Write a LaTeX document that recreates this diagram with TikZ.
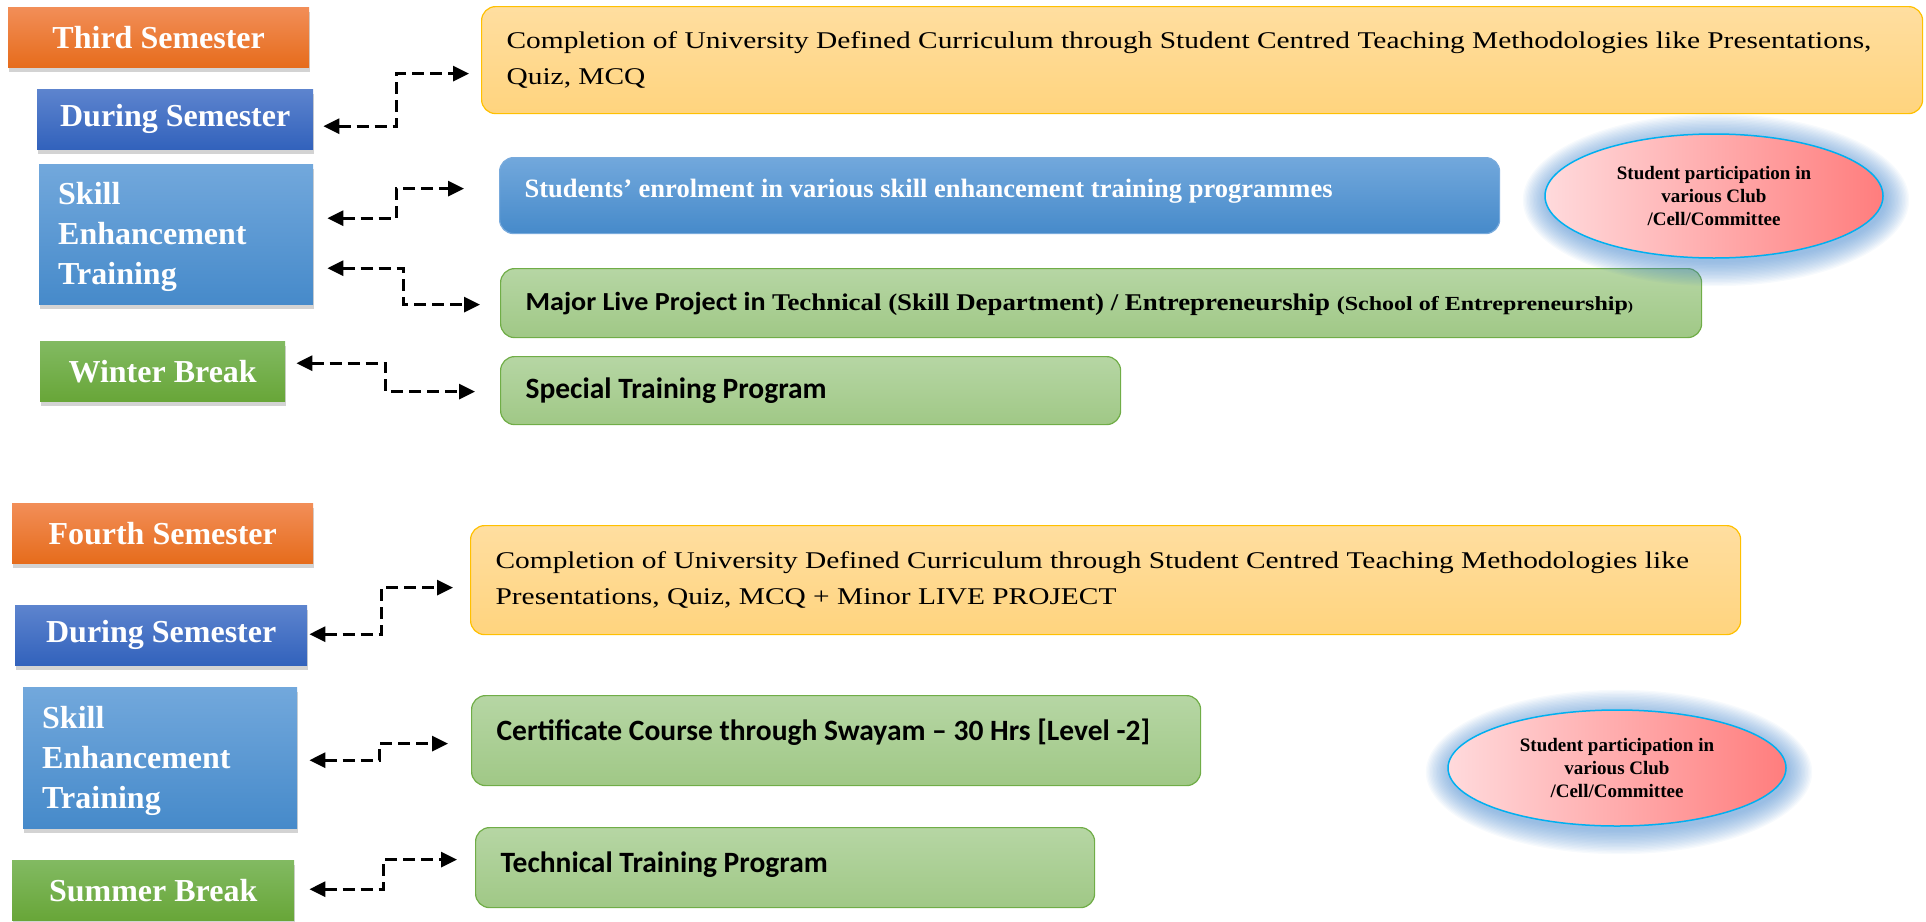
\documentclass[tikz,border=0pt]{standalone}
\usepackage{fontspec}
\setmainfont{Liberation Serif}
\newfontfamily\calib{Carlito}
\newfontfamily\calibW{Carlito}[FakeStretch=1.08]
\newfontfamily\serW{Liberation Serif}[FakeStretch=1.225]
\newfontfamily\serM{Liberation Serif}[FakeStretch=1.12]
\newfontfamily\serS{Liberation Serif}[FakeStretch=1.2]
\usetikzlibrary{arrows.meta,shadows,shapes.geometric}
\definecolor{orT}{RGB}{242,142,88}
\definecolor{orB}{RGB}{230,108,28}
\definecolor{dbT}{RGB}{93,132,206}
\definecolor{dbB}{RGB}{50,98,188}
\definecolor{lbT}{RGB}{114,168,220}
\definecolor{lbB}{RGB}{70,138,202}
\definecolor{gnT}{RGB}{130,186,98}
\definecolor{gnB}{RGB}{104,166,56}
\definecolor{yT}{RGB}{255,222,160}
\definecolor{yB}{RGB}{255,212,126}
\definecolor{yD}{RGB}{255,192,0}
\definecolor{pgT}{RGB}{182,214,164}
\definecolor{pgB}{RGB}{160,200,134}
\definecolor{pgD}{RGB}{112,173,71}
\definecolor{bxD}{RGB}{120,170,220}
\definecolor{elL}{RGB}{255,218,220}
\definecolor{elR}{RGB}{255,125,125}
\definecolor{elD}{RGB}{0,176,240}
\definecolor{glowc}{RGB}{70,135,205}
\tikzset{
  lbox/.style={anchor=north west, inner sep=0pt, text=white, align=flush center,
    font=\bfseries\fontsize{32}{40}\selectfont,
    drop shadow={shadow xshift=1pt, shadow yshift=-5pt, opacity=0.35}},
  orange/.style={top color=orT, bottom color=orB},
  dblue/.style={top color=dbT, bottom color=dbB},
  lblue/.style={top color=lbT, bottom color=lbB},
  green/.style={top color=gnT, bottom color=gnB},
  rbox/.style={anchor=north west, rounded corners=14pt, align=flush left,
    inner xsep=25pt, inner ysep=0pt, line width=1.2pt},
  ybox/.style={rbox, top color=yT, bottom color=yB, draw=yD,
    font=\serW\fontsize{24}{36}\selectfont},
  gbox/.style={rbox, top color=pgT, bottom color=pgB, draw=pgD,
    font=\calib\bfseries\fontsize{29.5}{34}\selectfont},
  bbox/.style={rbox, top color=lbT, bottom color=lbB, draw=bxD, text=white,
    font=\bfseries\fontsize{26.5}{30}\selectfont},
  club/.style={ellipse, inner sep=0pt, align=flush center, left color=elL,
    right color=elR, draw=elD, line width=1.5pt,
    font=\bfseries\fontsize{19}{23}\selectfont},
  conn/.style={line width=3pt, dash pattern=on 12pt off 6pt,
    {Triangle[length=16pt,width=15pt]}-{Triangle[length=16pt,width=15pt]}}
}
\begin{document}
\begin{tikzpicture}[x=1pt,y=-1pt]
\useasboundingbox (0,0) rectangle (1926,921);
% left column, third semester
\node[lbox, orange, minimum width=301pt, minimum height=60pt] (ts3) at (8,7) {Third Semester};
\node[lbox, dblue, minimum width=276pt, minimum height=60pt] (ds3) at (37,89) {During Semester};
\node[lbox, lblue, minimum height=140pt, text width=236pt, inner xsep=19pt, align=flush left, text depth=81pt] (sk3) at (39,164) {Skill\\Enhancement\\Training};
\node[lbox, green, minimum width=245pt, minimum height=60pt] (wb) at (40,341) {Winter Break};
% left column, fourth semester
\node[lbox, orange, minimum width=301pt, minimum height=60pt] (fs4) at (12,503) {Fourth Semester};
\node[lbox, dblue, minimum width=292pt, minimum height=60pt] (ds4) at (15,605) {During Semester};
\node[lbox, lblue, minimum height=141pt, text width=236pt, inner xsep=19pt, align=flush left, text depth=81pt] (sk4) at (23,687) {Skill\\Enhancement\\Training};
\node[lbox, green, minimum width=282pt, minimum height=60pt] (sb) at (12,860) {Summer Break};
% right column, third semester
\node[ybox, minimum height=107pt, text width=1391pt] (cur3) at (481,6)
  {Completion of University Defined Curriculum through Student Centred Teaching Methodologies like Presentations,\\Quiz, MCQ};
\node[bbox, minimum height=76pt, text width=950pt, text height=20pt, text depth=17pt] (enr) at (499,157)
  {Students’ enrolment in various skill enhancement training programmes};
\node[gbox, minimum height=69pt, text width=1151pt, text height=19pt, text depth=5pt] (maj) at (500,268)
  {{\calibW\fontsize{26}{30}\selectfont Major Live Project in }{\serM\bfseries\fontsize{24}{30}\selectfont Technical (Skill Department) / Entrepreneurship {\serS\fontsize{20}{24}\selectfont (School of Entrepreneurship{\fontsize{13}{16}\selectfont)}}}};
\node[gbox, minimum height=68pt, text width=570pt, text height=21pt, text depth=5pt] (spe) at (500,356) {Special Training Program};
% right column, fourth semester
\node[ybox, minimum height=109pt, text width=1220pt] (cur4) at (470,525)
  {Completion of University Defined Curriculum through Student Centred Teaching Methodologies like\\Presentations, Quiz, MCQ + Minor LIVE PROJECT};
\node[gbox, minimum height=90pt, text width=679pt, text height=21pt, text depth=22pt] (cert) at (471,695)
  {Certificate Course through Swayam – 30 Hrs [Level -2]};
\node[gbox, minimum height=80pt, text width=569pt, text height=21pt, text depth=11pt] (tech) at (475,827)
  {Technical Training Program};
% connectors
\draw[conn] ([xshift=10pt,yshift=-7pt]ds3.east) -- ++(73,0) |- ([xshift=-12pt,yshift=-13.5pt]cur3.west);
\draw[conn] ([xshift=14pt,yshift=16pt]sk3.east) -- ++(69,0) |- ([xshift=-35pt,yshift=7pt]enr.west);
\draw[conn] ([xshift=14pt,yshift=-34pt]sk3.east) -- ++(76,0) |- ([xshift=-20pt,yshift=-1.5pt]maj.west);
\draw[conn] ([xshift=11pt,yshift=8pt]wb.east) -- ++(89,0) |- ([xshift=-25pt,yshift=-1pt]spe.west);
\draw[conn] ([xshift=2pt,yshift=1pt]ds4.east) -- ++(72,0) |- ([xshift=-17pt,yshift=-7.5pt]cur4.west);
\draw[conn] ([xshift=12pt,yshift=-2.5pt]sk4.east) -- ++(70,0) |- ([xshift=-23pt,yshift=-3pt]cert.west);
\draw[conn] ([xshift=15pt,yshift=1pt]sb.east) -- ++(74,0) |- ([xshift=-18pt,yshift=8pt]tech.west);
% glows
\foreach \k in {1,...,18} {
  \fill[glowc, opacity=0.045] (1716,200) ellipse [x radius={168pt+\k*1.4pt}, y radius={61pt+\k*1.4pt}];
  \fill[glowc, opacity=0.045] (1619,772) ellipse [x radius={168pt+\k*1.4pt}, y radius={57pt+\k*1.4pt}];
}
\node[club, minimum width=338pt, minimum height=124pt] (club3) at (1714,196)
  {Student participation in\\various Club\\/Cell/Committee};
\node[club, minimum width=338pt, minimum height=116pt] (club4) at (1617,768)
  {Student participation in\\various Club\\/Cell/Committee};
\end{tikzpicture}
\end{document}
